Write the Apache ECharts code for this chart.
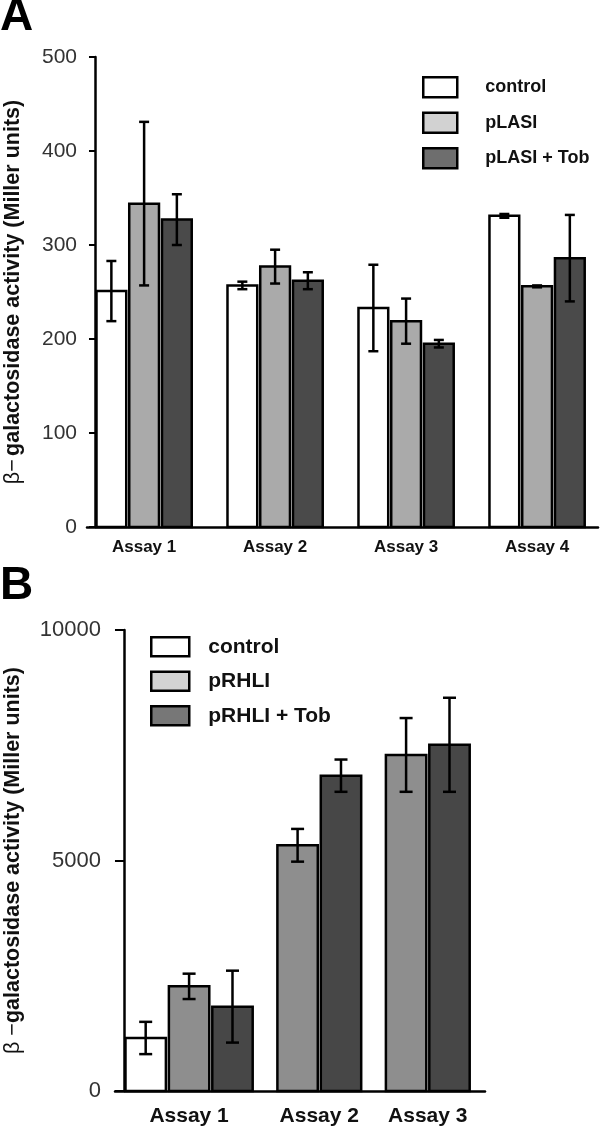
<!DOCTYPE html>
<html><head><meta charset="utf-8">
<script src="https://cdn.jsdelivr.net/npm/echarts@6/dist/echarts.min.js"></script>
<style>html,body{margin:0;padding:0;background:#fff}#c{width:600px;height:1129px}</style>
</head><body><div id="c"></div>
<script>
// ---- Panel A data ----
const categoriesA = ['Assay 1', 'Assay 2', 'Assay 3', 'Assay 4'];
const seriesNamesA = ['control', 'pLASI', 'pLASI + Tob'];
const controlA = [251, 257, 233, 331];
const controlErrA = [32, 4, 46, 2];
const plasiA = [344, 277, 219, 256];
const plasiErrA = [87, 18, 24, 1];
const plasiTobA = [327, 262, 195, 286];
const plasiTobErrA = [27, 9, 4, 46];
const yTicksA = [0, 100, 200, 300, 400, 500];

// ---- Panel B data ----
const categoriesB = ['Assay 1', 'Assay 2', 'Assay 3'];
const seriesNamesB = ['control', 'pRHLI', 'pRHLI + Tob'];
const controlB = [1150, null, null];
const controlErrB = [350, null, null];
const prhliB = [2270, 5330, 7290];
const prhliErrB = [275, 355, 800];
const prhliTobB = [1830, 6840, 7510];
const prhliTobErrB = [780, 350, 1020];
const yTicksB = [0, 5000, 10000];

const FONT = 'Liberation Sans, Arial, sans-serif';

// lay out groups: each present bar takes one slot, groups separated by a gap
function layoutGroups(valuesList, gap) {
  const nG = valuesList[0].length;
  const slots = valuesList.map(() => []);
  const centers = [];
  let pos = 0;
  for (let g = 0; g < nG; g++) {
    const start = pos;
    valuesList.forEach((vals, s) => {
      if (vals[g] != null) { slots[s][g] = pos + 0.5; pos += 1; }
      else slots[s][g] = null;
    });
    centers.push((start + pos) / 2);
    pos += gap;
  }
  return { slots, centers };
}

const layA = layoutGroups([controlA, plasiA, plasiTobA], 1);
const layB = layoutGroups([controlB, prhliB, prhliTobB], 0.5);

function makeSeries(name, vals, errs, slots, gi, fill, capW) {
  const data = [];
  vals.forEach((v, i) => { if (v != null) data.push([slots[i], v, errs[i]]); });
  return {
    type: 'custom', name: name, xAxisIndex: gi, yAxisIndex: gi,
    itemStyle: { color: fill, borderColor: '#000', borderWidth: 2.5 },
    encode: { x: 0, y: 1 },
    data: data,
    renderItem: function (params, api) {
      const x = api.value(0), v = api.value(1), e = api.value(2);
      const top = api.coord([x, v]);
      const base = api.coord([x, 0]);
      const w = api.size([1, 0])[0];
      const bw = w - 3;
      const hi = api.coord([x, v + e]);
      const lo = api.coord([x, v - e]);
      const ls = { stroke: '#000', lineWidth: 2.5 };
      return {
        type: 'group', children: [
          { type: 'rect', shape: { x: top[0] - bw / 2, y: top[1], width: bw, height: base[1] - top[1] },
            style: { fill: fill, stroke: '#000', lineWidth: 2.5 } },
          { type: 'line', shape: { x1: top[0], y1: hi[1], x2: top[0], y2: lo[1] }, style: ls },
          { type: 'line', shape: { x1: top[0] - capW / 2, y1: hi[1], x2: top[0] + capW / 2, y2: hi[1] }, style: ls },
          { type: 'line', shape: { x1: top[0] - capW / 2, y1: lo[1], x2: top[0] + capW / 2, y2: lo[1] }, style: ls }
        ]
      };
    }
  };
}

function labelFmt(centers, cats) {
  return function (v) {
    const i = centers.findIndex(c => Math.abs(c - v) < 1e-6);
    return i >= 0 ? cats[i] : '';
  };
}

const axisLineStyle = { color: '#000', width: 2.5 };
const titleRich = {
  n: { fontFamily: FONT, fontSize: 21.5, fontWeight: 'normal', color: '#111' },
  b: { fontFamily: FONT, fontSize: 21.5, fontWeight: 'bold', color: '#111' }
};

const chart = echarts.init(document.getElementById('c'), null, { renderer: 'canvas' });
chart.setOption({
  backgroundColor: '#fff',
  animation: false,
  graphic: [
    { type: 'text', left: 0, top: -6, style: { text: 'A', font: 'bold 46px ' + FONT, fill: '#000' } },
    { type: 'text', left: 0, top: 563, style: { text: 'B', font: 'bold 46px ' + FONT, fill: '#000' } }
  ],
  grid: [
    { left: 87, top: 57, width: 511, height: 470, containLabel: false, outerBoundsMode: 'none' },
    { left: 115, top: 630, width: 370, height: 461, containLabel: false, outerBoundsMode: 'none' }
  ],
  legend: [
    {
      left: 417, top: 71, orient: 'vertical', itemWidth: 34, itemHeight: 20, itemGap: 13,
      selectedMode: false, icon: 'rect',
      textStyle: { fontFamily: FONT, fontWeight: 'bold', fontSize: 18, color: '#111', lineHeight: 20, padding: [0, 0, 0, 23] },
      data: [
        { name: seriesNamesA[0], itemStyle: { color: '#fff', borderColor: '#000', borderWidth: 2.5 } },
        { name: seriesNamesA[1], itemStyle: { color: '#d2d2d2', borderColor: '#000', borderWidth: 2.5 } },
        { name: seriesNamesA[2], itemStyle: { color: '#6e6e6e', borderColor: '#000', borderWidth: 2.5 } }
      ]
    },
    {
      left: 145, top: 631, orient: 'vertical', itemWidth: 38, itemHeight: 19, itemGap: 13,
      selectedMode: false, icon: 'rect',
      textStyle: { fontFamily: FONT, fontWeight: 'bold', fontSize: 21, color: '#111', lineHeight: 20, padding: [0, 0, 0, 14] },
      data: [
        { name: seriesNamesB[0], itemStyle: { color: '#fff', borderColor: '#000', borderWidth: 2.5 } },
        { name: seriesNamesB[1], itemStyle: { color: '#d3d3d3', borderColor: '#000', borderWidth: 2.5 } },
        { name: seriesNamesB[2], itemStyle: { color: '#777777', borderColor: '#000', borderWidth: 2.5 } }
      ]
    }
  ],
  xAxis: [
    {
      type: 'value', gridIndex: 0, min: -0.244, max: 15.36,
      axisLine: { show: true, lineStyle: axisLineStyle },
      axisTick: { show: false }, splitLine: { show: false },
      axisLabel: { customValues: layA.centers, formatter: labelFmt(layA.centers, categoriesA),
        fontFamily: FONT, fontWeight: 'bold', fontSize: 17, color: '#111', margin: 12 }
    },
    {
      type: 'value', gridIndex: 1, min: -0.207, max: 8.318,
      axisLine: { show: true, lineStyle: axisLineStyle },
      axisTick: { show: false }, splitLine: { show: false },
      axisLabel: { customValues: layB.centers, formatter: labelFmt(layB.centers, categoriesB),
        fontFamily: FONT, fontWeight: 'bold', fontSize: 21, color: '#111', margin: 15 }
    }
  ],
  yAxis: [
    {
      type: 'value', gridIndex: 0, min: yTicksA[0], max: yTicksA[yTicksA.length - 1], interval: 100,
      axisLine: { show: true, lineStyle: axisLineStyle },
      axisTick: { show: true, length: 6, lineStyle: { color: '#000', width: 2 } },
      splitLine: { show: false },
      axisLabel: { fontFamily: FONT, fontSize: 21, color: '#333', margin: 10, formatter: v => String(v) },
      name: '{n|β−} {b|galactosidase activity (Miller units)}',
      nameLocation: 'middle', nameGap: 63,
      nameTextStyle: { rich: titleRich }
    },
    {
      type: 'value', gridIndex: 1, min: yTicksB[0], max: yTicksB[yTicksB.length - 1], interval: 5000,
      axisLine: { show: true, lineStyle: axisLineStyle },
      axisTick: { show: true, length: 9, lineStyle: { color: '#000', width: 2 } },
      splitLine: { show: false },
      axisLabel: { fontFamily: FONT, fontSize: 22, color: '#333', margin: 14, formatter: v => String(v) },
      name: '{n|β −}{b|galactosidase activity (Miller units)}',
      nameLocation: 'middle', nameGap: 91,
      nameTextStyle: { rich: titleRich }
    }
  ],
  series: [
    makeSeries(seriesNamesA[0], controlA, controlErrA, layA.slots[0], 0, '#ffffff', 10),
    makeSeries(seriesNamesA[1], plasiA, plasiErrA, layA.slots[1], 0, '#aaaaaa', 10),
    makeSeries(seriesNamesA[2], plasiTobA, plasiTobErrA, layA.slots[2], 0, '#4a4a4a', 10),
    makeSeries(seriesNamesB[0], controlB, controlErrB, layB.slots[0], 1, '#ffffff', 13),
    makeSeries(seriesNamesB[1], prhliB, prhliErrB, layB.slots[1], 1, '#8e8e8e', 13),
    makeSeries(seriesNamesB[2], prhliTobB, prhliTobErrB, layB.slots[2], 1, '#474747', 13)
  ]
});
</script>
</body></html>
